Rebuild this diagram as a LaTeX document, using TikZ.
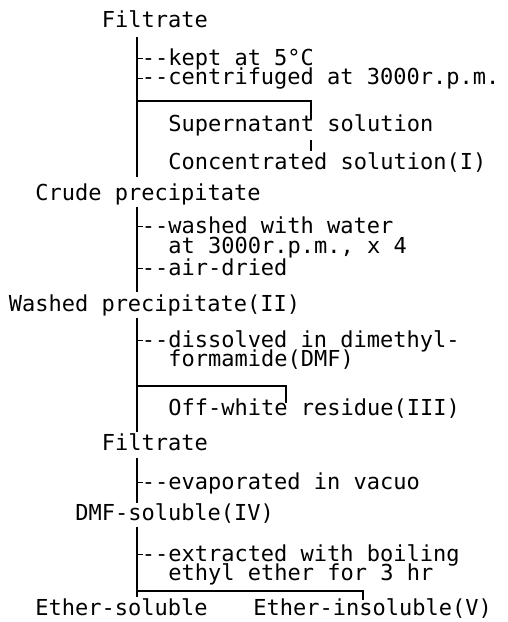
\documentclass[tikz,border=0pt]{standalone}
\usepackage{fontspec}
\setmonofont{DejaVu Sans Mono}
\newcommand\dd{-\kern0pt-}
\begin{document}
\begin{tikzpicture}[x=0.5pt, y=-0.5pt,
    every node/.style={font=\ttfamily\fontsize{11}{13}\selectfont, anchor=base west,
        inner sep=0pt, text height=8pt, text depth=2.5pt},
    trunk/.style={line width=1.4pt},
    branch/.style={line width=1pt},
    tick/.style={line width=0.7pt},
    stub/.style={line width=0.6pt}]
        \useasboundingbox (0,0) rectangle (508,622);
        \coordinate (spine) at (137,0);
        % texts
        \node (filtA) at (101.5,27) {Filtrate};
        \node (kept) at (141.4,65) {\dd kept at 5°C};
        \node (centri) at (141.4,84.5) {\dd centrifuged at 3000r.p.m.};
        \node (super) at (168,131) {Supernatant solution};
        \node (conc) at (168,169) {Concentrated solution(I)};
        \node (crude) at (35,200) {Crude precipitate};
        \node (wash) at (141.4,233) {\dd washed with water};
        \node (wash2) at (168,253) {at 3000r.p.m., x 4};
        \node (dried) at (141.4,275) {\dd air-dried};
        \node (washed) at (8.4,311) {Washed precipitate(II)};
        \node (diss) at (141.4,347) {\dd dissolved in dimethyl-};
        \node (diss2) at (168,366.5) {formamide(DMF)};
        \node (resid) at (168,415) {Off-white residue(III)};
        \node (filtB) at (101.5,450) {Filtrate};
        \node (evap) at (141.4,489) {\dd evaporated in vacuo};
        \node (dmfsol) at (74.9,520) {DMF-soluble(IV)};
        \node (extr) at (141.4,561) {\dd extracted with boiling};
        \node (extr2) at (168,580.5) {ethyl ether for 3 hr};
        \node (ethsol) at (35,615.5) {Ether-soluble};
        \node (ethins) at (253,615.5) {Ether-insoluble(V)};
        % main line
        \draw[trunk, shorten <=2.5pt, shorten >=3.5pt] (filtA.south -| spine) -- (crude.north -| spine);
        \draw[trunk, shorten <=1pt, shorten >=1.5pt] (crude.south -| spine) -- (washed.north -| spine);
        \draw[trunk, shorten <=1pt, shorten >=1pt] (washed.south -| spine) -- (filtB.north -| spine);
        \draw[trunk, shorten <=1.5pt, shorten >=0.5pt] (filtB.south -| spine) -- (dmfsol.north -| spine);
        \draw[trunk, shorten <=1pt, shorten >=1pt] (dmfsol.south -| spine) -- (ethsol.north -| spine);
        % side steps
        \foreach \n in {kept,centri,wash,dried,diss,evap,extr}
            \draw[stub] ([yshift=3.2pt]\n.base west -| spine) -- ([yshift=3.2pt, xshift=1pt]\n.base west);
        % branches
        \coordinate (brA) at (311,101);
        \coordinate (brB) at (286,386);
        \coordinate (brC) at (363,591);
        \draw[branch] (brA -| spine) -- (brA) -- ([yshift=-2pt]super.north -| brA);
        \draw[tick, shorten <=2pt, shorten >=1pt] (super.south -| brA) -- (conc.north -| brA);
        \draw[branch] (brB -| spine) -- (brB) -- ([yshift=-2pt]resid.north -| brB);
        \draw[branch] (brC -| spine) -- (brC) -- ([yshift=-0.5pt]ethins.north -| brC);
    \end{tikzpicture}
\end{document}
